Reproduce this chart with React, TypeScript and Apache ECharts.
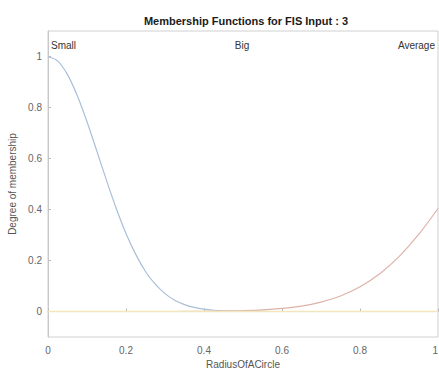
import React, { useEffect, useRef } from "react";
import * as echarts from "echarts";

const smallX = [0, 0.025, 0.05, 0.075, 0.1, 0.125, 0.15, 0.175, 0.2, 0.225, 0.25, 0.275, 0.3, 0.325, 0.35, 0.375, 0.4, 0.425, 0.45, 0.475, 0.5, 0.55, 0.6, 0.7, 0.8, 0.9, 1];
const smallValues = [1, 0.982, 0.929, 0.847, 0.744, 0.63, 0.514, 0.404, 0.306, 0.224, 0.157, 0.107, 0.07, 0.044, 0.027, 0.016, 0.009, 0.0048, 0.0025, 0.0013, 0.0006, 0.0001, 0, 0, 0, 0, 0];
const bigX = [0, 0.1, 0.2, 0.3, 0.35, 0.4, 0.45, 0.5, 0.55, 0.6, 0.65, 0.7, 0.75, 0.8, 0.85, 0.9, 0.95, 1];
const bigValues = [0, 0, 0, 0, 0.0002, 0.0007, 0.0016, 0.0032, 0.0063, 0.012, 0.021, 0.037, 0.061, 0.097, 0.147, 0.215, 0.301, 0.404];
const averageX = [0, 0.25, 0.5, 0.75, 1];
const averageValues = [0, 0, 0, 0, 0];
const yTicks = [0, 0.2, 0.4, 0.6, 0.8, 1];
const xTicks = [0, 0.2, 0.4, 0.6, 0.8, 1];
const mfNames = ["Small", "Big", "Average"];

const FONT = "Liberation Sans, Arial, sans-serif";

export default function App() {
  const ref = useRef<HTMLDivElement>(null);
  useEffect(() => {
    if (!ref.current) return;
    const chart = echarts.init(ref.current, null, { renderer: "svg" });
    const pair = (xs: number[], vals: number[]) => xs.map((x, i) => [x, vals[i]]);
    chart.setOption({
      animation: false,
      title: {
        text: "Membership Functions for FIS Input : 3",
        left: 241,
        top: 10,
        textAlign: "center",
        textStyle: { fontFamily: FONT, fontSize: 11, fontWeight: "bold", color: "#1a1a1a" },
      },
      grid: {
        left: 48,
        right: 1,
        top: 31,
        bottom: 34,
        show: true,
        borderColor: "#d0d0d0",
        borderWidth: 1,
        containLabel: false,
        outerBoundsMode: "none",
      },
      xAxis: {
        type: "value",
        min: 0,
        max: 1,
        name: "RadiusOfACircle",
        nameLocation: "middle",
        nameGap: 21,
        nameTextStyle: { fontFamily: FONT, fontSize: 10, color: "#555" },
        axisLine: { show: true, lineStyle: { color: "#c8c8c8" } },
        axisTick: { show: true, inside: true, length: 3, customValues: xTicks, lineStyle: { color: "#bbb" } },
        axisLabel: {
          customValues: xTicks,
          fontFamily: FONT,
          fontSize: 10,
          color: "#666",
          margin: 8,
          showMaxLabel: true,
          showMinLabel: true,
          alignMaxLabel: "right",
        },
        splitLine: { show: false },
      },
      yAxis: {
        type: "value",
        min: -0.1,
        max: 1.1,
        name: "Degree of membership",
        nameLocation: "middle",
        nameGap: 27,
        nameTextStyle: { fontFamily: FONT, fontSize: 10, color: "#555" },
        axisLine: { show: true, lineStyle: { color: "#c8c8c8" } },
        axisTick: { show: true, inside: true, length: 3, customValues: yTicks, lineStyle: { color: "#bbb" } },
        axisLabel: { customValues: yTicks, fontFamily: FONT, fontSize: 10, color: "#666", margin: 6 },
        splitLine: { show: false },
      },
      graphic: [
        { type: "text", x: 51, y: 40, style: { text: mfNames[0], fontFamily: FONT, fontSize: 10, fill: "#333" } },
        { type: "text", x: 242, y: 40, style: { text: mfNames[1], fontFamily: FONT, fontSize: 10, fill: "#333", textAlign: "center" } },
        { type: "text", x: 435, y: 40, style: { text: mfNames[2], fontFamily: FONT, fontSize: 10, fill: "#333", textAlign: "right" } },
      ],
      series: [
        {
          name: mfNames[0],
          type: "line",
          data: pair(smallX, smallValues),
          smooth: 0.3,
          showSymbol: false,
          lineStyle: { color: "#a9bfd8", width: 1.2 },
          z: 2,
        },
        {
          name: mfNames[1],
          type: "line",
          data: pair(bigX, bigValues),
          smooth: 0.3,
          showSymbol: false,
          lineStyle: { color: "#ddb3a8", width: 1.2 },
          z: 3,
        },
        {
          name: mfNames[2],
          type: "line",
          data: pair(averageX, averageValues),
          showSymbol: false,
          lineStyle: { color: "#f3e6bd", width: 1.5 },
          z: 4,
        },
      ],
    });
    return () => chart.dispose();
  }, []);
  return <div ref={ref} style={{ width: 439, height: 371, position: "absolute", left: 0, top: 0 }} />;
}
